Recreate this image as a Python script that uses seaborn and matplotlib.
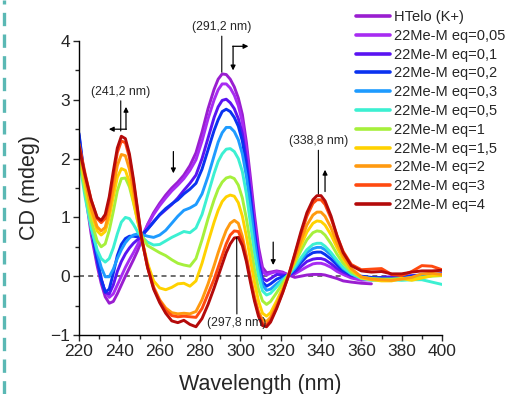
import numpy as np
import pandas as pd
import matplotlib
matplotlib.use("Agg")
import matplotlib.pyplot as plt
from matplotlib.lines import Line2D
from matplotlib.ticker import MultipleLocator
import seaborn as sns

# longitudes de onda (nm)
wl = [220, 223, 226, 229, 231, 233, 235, 237, 239, 241,
      243, 245, 247, 249, 251, 254, 257, 260, 263, 266,
      269, 272, 275, 278, 281, 284, 287, 289, 291, 293,
      295, 297, 299, 301, 303, 305, 307, 309, 311, 313,
      315, 318, 321, 324, 327, 330, 333, 336, 338, 340,
      342, 345, 348, 351, 355, 360, 365, 370, 375, 380,
      385, 390, 395, 400]

nan = np.nan
htelo = [2.30, 1.45, 0.72, 0.18, -0.12, -0.35, -0.46, -0.43, -0.30, -0.15,
         0.00, 0.14, 0.28, 0.43, 0.60, 0.88, 1.08, 1.24, 1.38, 1.50,
         1.60, 1.72, 1.88, 2.10, 2.45, 2.85, 3.18, 3.35, 3.44, 3.43,
         3.35, 3.22, 3.03, 2.75, 2.28, 1.68, 1.05, 0.50, 0.15, 0.06,
         0.07, 0.09, 0.07, 0.02, -0.02, 0.00, 0.02, 0.03, 0.03, 0.03,
         0.02, -0.01, -0.04, -0.08, -0.10, -0.12, -0.13, nan, nan, nan,
         nan, nan, nan, nan]
eq005 = [2.35, 1.52, 0.80, 0.25, -0.05, -0.27, -0.36, -0.30, -0.15, 0.00,
         0.15, 0.28, 0.40, 0.53, 0.67, 0.87, 1.05, 1.20, 1.33, 1.45,
         1.55, 1.66, 1.80, 1.98, 2.30, 2.68, 3.00, 3.17, 3.27, 3.27,
         3.20, 3.08, 2.90, 2.62, 2.15, 1.55, 0.92, 0.40, 0.08, 0.02,
         0.05, 0.08, 0.05, 0.02, 0.04, 0.10, 0.16, 0.21, 0.22, 0.22,
         0.20, 0.15, 0.08, 0.03, -0.03, -0.07, -0.06, -0.05, -0.03, -0.02,
         -0.03, 0.00, 0.02, 0.03]
eq01 = [2.40, 1.58, 0.85, 0.28, -0.05, -0.28, -0.30, -0.15, 0.08, 0.25,
        0.38, 0.48, 0.56, 0.62, 0.68, 0.80, 0.93, 1.04, 1.13, 1.22,
        1.33, 1.46, 1.58, 1.72, 2.00, 2.35, 2.70, 2.88, 2.99, 3.01,
        2.95, 2.85, 2.68, 2.42, 1.98, 1.42, 0.80, 0.28, -0.03, -0.08,
        -0.04, 0.03, 0.02, 0.01, 0.07, 0.16, 0.25, 0.29, 0.30, 0.30,
        0.28, 0.21, 0.13, 0.07, 0.01, -0.02, -0.03, -0.02, -0.01, 0.00,
        0.01, 0.02, 0.03, 0.04]
eq02 = [2.43, 1.60, 0.85, 0.28, -0.05, -0.27, -0.22, 0.05, 0.35, 0.54,
        0.64, 0.68, 0.68, 0.67, 0.70, 0.80, 0.92, 1.05, 1.15, 1.23,
        1.30, 1.40, 1.48, 1.58, 1.82, 2.15, 2.48, 2.66, 2.80, 2.84,
        2.80, 2.70, 2.55, 2.30, 1.88, 1.32, 0.72, 0.20, -0.10, -0.17,
        -0.13, -0.05, -0.01, 0.02, 0.11, 0.23, 0.34, 0.40, 0.41, 0.41,
        0.37, 0.29, 0.19, 0.10, 0.03, 0.00, -0.02, -0.03, -0.04, -0.02,
        0.00, 0.02, 0.03, 0.04]
eq03 = [2.25, 1.50, 0.88, 0.40, 0.15, -0.01, -0.01, 0.12, 0.30, 0.45,
        0.57, 0.65, 0.70, 0.72, 0.71, 0.68, 0.66, 0.70, 0.78, 0.90,
        1.02, 1.12, 1.16, 1.22, 1.40, 1.70, 2.05, 2.28, 2.44, 2.53,
        2.53, 2.46, 2.32, 2.08, 1.70, 1.18, 0.62, 0.15, -0.15, -0.24,
        -0.22, -0.13, -0.05, 0.02, 0.13, 0.27, 0.40, 0.47, 0.49, 0.49,
        0.45, 0.36, 0.24, 0.13, 0.04, -0.02, -0.04, -0.05, -0.05, -0.04,
        -0.02, 0.00, 0.01, 0.02]
eq05 = [2.00, 1.35, 0.82, 0.45, 0.30, 0.24, 0.30, 0.48, 0.72, 0.92,
        1.00, 0.98, 0.88, 0.76, 0.67, 0.58, 0.53, 0.54, 0.60, 0.66,
        0.71, 0.76, 0.74, 0.82, 1.05, 1.40, 1.75, 1.95, 2.08, 2.16,
        2.17, 2.12, 2.00, 1.78, 1.40, 0.90, 0.40, 0.00, -0.25, -0.32,
        -0.29, -0.18, -0.07, 0.03, 0.16, 0.31, 0.45, 0.54, 0.56, 0.56,
        0.51, 0.40, 0.27, 0.15, 0.04, -0.04, -0.07, -0.07, -0.06, -0.07,
        -0.06, -0.06, -0.10, -0.14]
eq1 = [2.05, 1.45, 0.95, 0.60, 0.50, 0.55, 0.78, 1.10, 1.45, 1.66,
       1.67, 1.52, 1.25, 0.95, 0.70, 0.52, 0.46, 0.40, 0.35, 0.28,
       0.22, 0.19, 0.17, 0.30, 0.62, 0.98, 1.30, 1.48, 1.60, 1.67,
       1.69, 1.66, 1.55, 1.33, 0.98, 0.55, 0.12, -0.22, -0.42, -0.48,
       -0.43, -0.28, -0.12, 0.04, 0.22, 0.43, 0.62, 0.74, 0.77, 0.76,
       0.70, 0.55, 0.37, 0.22, 0.07, -0.02, -0.04, -0.05, -0.05, -0.04,
       -0.03, -0.02, 0.00, 0.01]
eq15 = [2.15, 1.58, 1.08, 0.77, 0.70, 0.76, 1.00, 1.35, 1.68, 1.83,
        1.80, 1.60, 1.28, 0.95, 0.65, 0.22, -0.08, -0.20, -0.23, -0.19,
        -0.13, -0.12, -0.17, -0.08, 0.22, 0.58, 0.92, 1.12, 1.27, 1.35,
        1.38, 1.36, 1.25, 1.02, 0.68, 0.28, -0.10, -0.42, -0.63, -0.68,
        -0.62, -0.42, -0.20, 0.03, 0.26, 0.52, 0.75, 0.90, 0.94, 0.93,
        0.87, 0.70, 0.48, 0.29, 0.11, -0.03, -0.06, -0.08, -0.08, -0.04,
        -0.07, -0.03, 0.01, 0.02]
eq2 = [2.20, 1.65, 1.15, 0.84, 0.77, 0.83, 1.10, 1.50, 1.88, 2.07,
       2.05, 1.82, 1.45, 1.02, 0.65, 0.17, -0.18, -0.40, -0.54, -0.62,
       -0.64, -0.63, -0.64, -0.60, -0.40, -0.13, 0.18, 0.40, 0.60, 0.78,
       0.90, 0.95, 0.90, 0.68, 0.35, -0.02, -0.35, -0.60, -0.74, -0.77,
       -0.70, -0.48, -0.24, 0.02, 0.30, 0.60, 0.87, 1.04, 1.09, 1.09,
       1.02, 0.82, 0.56, 0.34, 0.13, -0.01, -0.05, -0.06, -0.07, -0.05,
       -0.02, 0.04, 0.05, 0.03]
eq3 = [2.25, 1.75, 1.30, 0.98, 0.91, 0.98, 1.28, 1.70, 2.10, 2.30,
       2.27, 2.02, 1.60, 1.12, 0.66, 0.15, -0.20, -0.42, -0.58, -0.67,
       -0.69, -0.68, -0.69, -0.70, -0.55, -0.30, -0.05, 0.15, 0.35, 0.55,
       0.70, 0.77, 0.76, 0.60, 0.30, -0.05, -0.38, -0.64, -0.80, -0.83,
       -0.75, -0.53, -0.27, 0.02, 0.36, 0.71, 1.02, 1.24, 1.30, 1.30,
       1.22, 0.98, 0.68, 0.42, 0.20, 0.11, 0.12, 0.13, 0.03, 0.01,
       0.08, 0.18, 0.17, 0.11]
eq4 = [2.20, 1.72, 1.30, 1.00, 0.95, 1.05, 1.35, 1.78, 2.18, 2.38,
       2.34, 2.08, 1.65, 1.15, 0.65, 0.15, -0.22, -0.45, -0.63, -0.76,
       -0.79, -0.75, -0.82, -0.86, -0.72, -0.48, -0.20, 0.00, 0.20, 0.40,
       0.55, 0.65, 0.66, 0.52, 0.25, -0.10, -0.42, -0.68, -0.84, -0.86,
       -0.78, -0.55, -0.28, 0.02, 0.38, 0.75, 1.08, 1.30, 1.37, 1.37,
       1.28, 1.02, 0.68, 0.40, 0.18, 0.09, 0.07, 0.08, 0.04, 0.04,
       0.07, 0.09, 0.09, 0.10]

etiquetas = ['HTelo (K+)', '22Me-M eq=0,05', '22Me-M eq=0,1', '22Me-M eq=0,2',
             '22Me-M eq=0,3', '22Me-M eq=0,5', '22Me-M eq=1', '22Me-M eq=1,5',
             '22Me-M eq=2', '22Me-M eq=3', '22Me-M eq=4']
series = [htelo, eq005, eq01, eq02, eq03, eq05, eq1, eq15, eq2, eq3, eq4]
colores = ['#9a1ed0', '#a82cf2', '#5a14f2', '#0a32f0', '#1e9bff', '#3cf0d2',
           '#a6f03c', '#ffd200', '#ff9a10', '#ff4a10', '#b40a0a']

datos = []
for nombre, valores in zip(etiquetas, series):
    for w, v in zip(wl, valores):
        datos.append({'Wavelength': w, 'CD': v, 'Muestra': nombre})
df = pd.DataFrame(datos).dropna()

sns.set_style('ticks')
plt.rcParams['font.family'] = ['Liberation Sans', 'DejaVu Sans']

fig = plt.figure(figsize=(5.1, 3.94), dpi=100)
ax = fig.add_axes([79 / 510, 59 / 394, 363 / 510, 294 / 394])

ax.axhline(0, color='#555555', ls=(0, (3, 2.5)), lw=1.2, zorder=1)
sns.lineplot(data=df, x='Wavelength', y='CD', hue='Muestra', hue_order=etiquetas,
             palette=colores, sort=False, estimator=None, lw=2.1, ax=ax, zorder=2)
for ln in ax.get_lines():
    ln.set_solid_joinstyle('round')

ax.set_xlim(220, 400)
ax.set_ylim(-1, 4)
ax.xaxis.set_major_locator(MultipleLocator(20))
ax.xaxis.set_minor_locator(MultipleLocator(10))
ax.yaxis.set_major_locator(MultipleLocator(1))
ax.yaxis.set_minor_locator(MultipleLocator(0.5))
ax.tick_params(which='major', length=4, width=1, labelsize=12.5, pad=2.5)
ax.tick_params(which='minor', length=3, width=1)
for lado in ['top', 'right']:
    ax.spines[lado].set_visible(False)
for lado in ['left', 'bottom']:
    ax.spines[lado].set_linewidth(1)
    ax.spines[lado].set_color('black')
ax.set_xlabel('Wavelength (nm)', fontsize=15.5, labelpad=11)
ax.set_ylabel('CD (mdeg)', fontsize=15.5, labelpad=7)

# leyenda
handles, labels = ax.get_legend_handles_labels()
for h in handles:
    h.set_linewidth(2.6)
ax.legend(handles, labels, loc='upper left', bbox_to_anchor=(356 / 510, 1 - 10 / 394),
          bbox_transform=fig.transFigure, frameon=False, fontsize=10.5,
          handlelength=2.3, handletextpad=0.3, labelspacing=0.33, borderpad=0,
          borderaxespad=0)

# anotaciones
flecha = dict(arrowstyle='-|>', color='black', lw=0.9, mutation_scale=7, shrinkA=0, shrinkB=0)
linea = dict(arrowstyle='-', color='black', lw=0.8, shrinkA=0, shrinkB=0)
kw_txt = dict(fontsize=8.8, ha='center', va='center', annotation_clip=False)

ax.annotate('(241,2 nm)', xy=(240.7, 2.47), xytext=(240.7, 3.14), arrowprops=linea, **kw_txt)
ax.annotate('', xy=(243.3, 2.88), xytext=(243.3, 2.50), arrowprops=flecha)
ax.annotate('', xy=(234.8, 2.50), xytext=(243.5, 2.50), arrowprops=flecha)

ax.annotate('(291,2 nm)', xy=(290.8, 3.47), xytext=(290.8, 4.24), arrowprops=linea, **kw_txt)
ax.annotate('', xy=(296.4, 3.50), xytext=(296.4, 3.91), arrowprops=flecha, annotation_clip=False)
ax.annotate('', xy=(304.0, 3.91), xytext=(296.2, 3.91), arrowprops=flecha, annotation_clip=False)

ax.annotate('', xy=(266.8, 1.75), xytext=(266.8, 2.12), arrowprops=flecha)
ax.annotate('', xy=(316.3, 0.19), xytext=(316.3, 0.58), arrowprops=flecha)

ax.annotate('(338,8 nm)', xy=(338.7, 1.40), xytext=(338.7, 2.30), arrowprops=linea, **kw_txt)
ax.annotate('', xy=(342.0, 1.81), xytext=(342.0, 1.44), arrowprops=flecha)

ax.annotate('(297,8 nm)', xy=(298.2, 0.66), xytext=(298.3, -0.80), arrowprops=linea, **kw_txt)

# borde punteado a la izquierda
fig.add_artist(Line2D([4 / 510, 4 / 510], [0, 1], transform=fig.transFigure,
                      color='#5ab8b4', ls=(0, (4, 2.5)), lw=2.4))

fig.savefig('out.png', dpi=100)
